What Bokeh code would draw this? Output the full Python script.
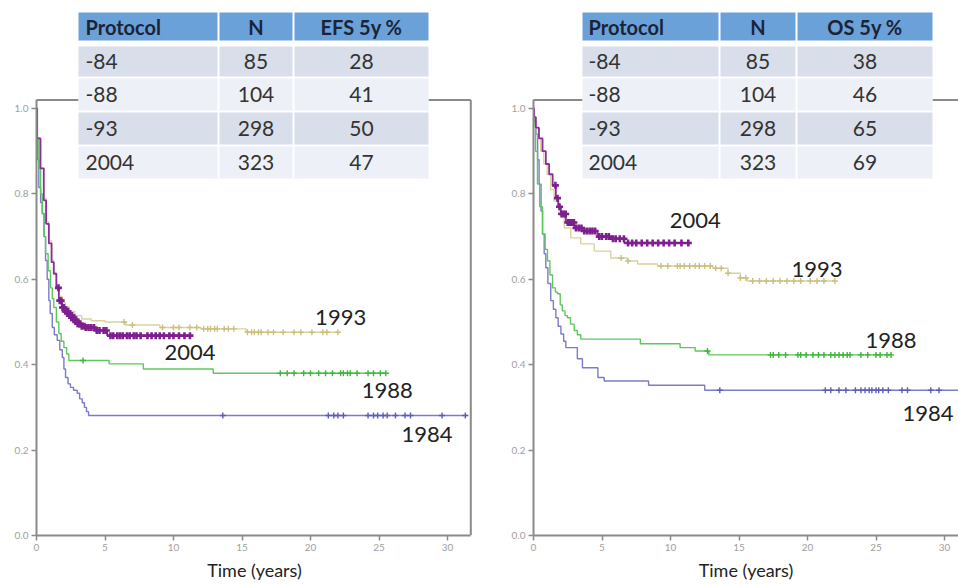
import numpy as np
from bokeh.plotting import figure
from bokeh.layouts import row
from bokeh.models import Range1d, FixedTicker, PrintfTickFormatter
from bokeh.core.properties import value
from bokeh.embed import file_html
from bokeh.resources import INLINE

FONT = "Lato"

# ---------------- table data ----------------
protocols = ["-84", "-88", "-93", "2004"]
patients_n = [85, 104, 298, 323]
efs_5y = [28, 41, 50, 47]
os_5y = [38, 46, 65, 69]
efs_header = ["Protocol", "N", "EFS 5y %"]
os_header = ["Protocol", "N", "OS 5y %"]
x_title = "Time (years)"

series_names = ["1984", "1988", "1993", "2004"]
series_colors = ["#7b7bc9", "#5cc85c", "#d8d2a0", "#8e2c9e"]
censor_colors = ["#5d5db8", "#3fb43f", "#c9c07f", "#7d1f8e"]

x_ticks = [0, 5, 10, 15, 20, 25, 30]
y_ticks = [0.0, 0.2, 0.4, 0.6, 0.8, 1.0]

# ---------------- EFS (left panel) ----------------
efs_1984_t = [0, 0.05, 0.08, 0.17, 0.3, 0.42, 0.55, 0.66, 0.78, 0.9, 1.0, 1.15, 1.3, 1.51, 1.7, 1.88, 2.0, 2.12, 2.3, 2.48, 2.7, 2.97, 3.15, 3.34, 3.5, 3.65, 3.8]
efs_1984_s = [1.0, 0.93, 0.88, 0.815, 0.78, 0.754, 0.70, 0.644, 0.60, 0.55, 0.52, 0.487, 0.47, 0.457, 0.435, 0.417, 0.39, 0.37, 0.355, 0.347, 0.34, 0.333, 0.32, 0.311, 0.30, 0.29, 0.281]
efs_1984_end = 31.5
efs_1984_cens = [13.6, 21.3, 21.7, 22.0, 22.4, 24.2, 24.6, 24.9, 25.3, 25.6, 26.2, 26.9, 27.3, 29.6, 31.3]

efs_1988_t = [0, 0.05, 0.17, 0.3, 0.42, 0.55, 0.66, 0.85, 1.02, 1.15, 1.26, 1.45, 1.63, 1.8, 2.0, 2.2, 2.36, 5.3, 7.8, 12.9]
efs_1988_s = [1.0, 0.93, 0.86, 0.80, 0.754, 0.70, 0.66, 0.62, 0.58, 0.555, 0.534, 0.50, 0.473, 0.455, 0.44, 0.425, 0.41, 0.402, 0.39, 0.38]
efs_1988_end = 25.5
efs_1988_cens = [3.4, 17.8, 18.3, 18.8, 19.5, 20.0, 20.6, 21.1, 21.6, 22.2, 22.4, 22.7, 22.9, 23.4, 24.2, 24.6, 25.1, 25.5]

efs_1993_t = [0, 0.05, 0.29, 0.53, 0.7, 0.9, 1.1, 1.26, 1.45, 1.63, 1.87, 2.1, 2.4, 2.8, 3.3, 4.0, 5.0, 6.5, 9.0, 12.0, 15.3]
efs_1993_s = [1.0, 0.93, 0.86, 0.79, 0.735, 0.69, 0.645, 0.615, 0.585, 0.56, 0.545, 0.535, 0.525, 0.515, 0.507, 0.503, 0.50, 0.493, 0.487, 0.484, 0.476]
efs_1993_end = 22.0
efs_1993_cens = [6.4, 7.0, 9.2, 10.0, 10.4, 11.2, 11.7, 12.2, 12.5, 12.7, 13.0, 13.2, 13.7, 14.0, 14.4, 15.4, 15.7, 15.9, 16.2, 16.4, 16.9, 17.3, 18.0, 18.8, 19.3, 20.1, 20.9, 21.2, 22.0]

efs_2004_t = [0, 0.05, 0.29, 0.53, 0.7, 0.9, 1.1, 1.26, 1.45, 1.63, 1.87, 2.1, 2.36, 2.65, 2.97, 3.3, 3.58, 4.3, 5.16]
efs_2004_s = [1.0, 0.93, 0.86, 0.785, 0.73, 0.684, 0.64, 0.613, 0.58, 0.55, 0.534, 0.525, 0.515, 0.505, 0.496, 0.49, 0.487, 0.48, 0.468]
efs_2004_end = 11.2
efs_2004_cens = [1.6, 1.7, 1.8, 1.9, 2.0, 2.1, 2.2, 2.3, 2.4, 2.5, 2.6, 2.7, 2.8, 2.9, 3.0, 3.1, 3.2, 3.3, 3.5, 3.6, 3.8, 4.0, 4.2, 4.4, 4.6, 4.9, 5.1, 5.4, 5.6, 5.9, 6.1, 6.3, 6.6, 6.8, 7.1, 7.3, 7.6, 8.1, 8.4, 8.7, 9.0, 9.3, 9.7, 10.0, 10.4, 10.8, 11.2]

efs_label_t = [28.5, 25.6, 22.2, 11.2]
efs_label_s = [0.237, 0.34, 0.511, 0.429]

# ---------------- OS (right panel) ----------------
os_1984_t = [0, 0.05, 0.17, 0.3, 0.41, 0.55, 0.66, 0.78, 0.9, 1.05, 1.26, 1.45, 1.63, 1.8, 2.0, 2.2, 2.36, 3.2, 3.57, 4.7, 5.16, 8.4, 12.5]
os_1984_s = [1.0, 0.97, 0.94, 0.88, 0.823, 0.76, 0.706, 0.66, 0.627, 0.59, 0.55, 0.53, 0.51, 0.49, 0.472, 0.455, 0.44, 0.414, 0.393, 0.37, 0.362, 0.352, 0.340]
os_1984_end = 31.5
os_1984_cens = [13.6, 21.3, 21.7, 22.3, 22.8, 23.5, 23.9, 24.2, 24.5, 24.7, 25.0, 25.2, 25.5, 25.9, 26.9, 27.3, 29.0, 29.6]

os_1988_t = [0, 0.03, 0.15, 0.29, 0.45, 0.66, 0.85, 1.02, 1.2, 1.39, 1.6, 1.75, 1.95, 2.1, 2.3, 2.48, 2.7, 2.97, 3.2, 3.45, 7.8, 10.7, 11.8, 12.8]
os_1988_s = [1.0, 0.96, 0.90, 0.823, 0.77, 0.706, 0.67, 0.643, 0.61, 0.58, 0.57, 0.566, 0.54, 0.526, 0.515, 0.51, 0.495, 0.48, 0.47, 0.46, 0.449, 0.44, 0.432, 0.423]
os_1988_end = 26.1
os_1988_cens = [12.7, 17.3, 17.5, 17.9, 18.4, 19.3, 19.5, 19.9, 20.4, 20.8, 21.2, 21.7, 22.0, 22.3, 22.6, 22.9, 23.1, 23.9, 24.4, 25.0, 25.3, 25.8, 26.1]

os_1993_t = [0, 0.05, 0.17, 0.35, 0.53, 0.75, 1.0, 1.25, 1.5, 1.87, 2.24, 2.72, 3.45, 4.43, 5.64, 6.86, 7.6, 9.05, 13.1, 14.2, 15.1, 15.6]
os_1993_s = [1.0, 0.98, 0.955, 0.93, 0.90, 0.87, 0.846, 0.81, 0.783, 0.753, 0.72, 0.697, 0.683, 0.666, 0.65, 0.643, 0.636, 0.631, 0.626, 0.614, 0.603, 0.596]
os_1993_end = 22.0
os_1993_cens = [6.4, 6.9, 9.3, 9.8, 10.5, 10.7, 11.0, 11.4, 11.8, 12.1, 12.5, 12.9, 13.3, 13.7, 14.2, 15.1, 15.5, 16.0, 16.5, 17.0, 17.5, 18.0, 18.5, 19.0, 19.5, 20.2, 20.7, 21.2, 22.0]

os_2004_t = [0, 0.05, 0.17, 0.4, 0.66, 0.9, 1.14, 1.4, 1.63, 1.8, 2.0, 2.36, 2.97, 3.7, 4.67, 5.64, 6.62]
os_2004_s = [1.0, 0.98, 0.955, 0.93, 0.90, 0.87, 0.846, 0.82, 0.79, 0.77, 0.753, 0.733, 0.72, 0.713, 0.70, 0.695, 0.685]
os_2004_end = 11.3
os_2004_cens = [1.6, 1.75, 1.9, 2.05, 2.2, 2.35, 2.5, 2.65, 2.8, 2.95, 3.1, 3.3, 3.5, 3.7, 3.9, 4.1, 4.3, 4.5, 4.8, 5.0, 5.3, 5.5, 5.8, 6.0, 6.3, 6.6, 6.9, 7.2, 7.5, 7.9, 8.3, 8.7, 9.1, 9.5, 9.9, 10.3, 10.8, 11.3]

os_label_t = [28.8, 26.1, 20.7, 11.8]
os_label_s = [0.285, 0.456, 0.624, 0.737]

# ---------------- layout constants (page pixels) ----------------
PX_PER_YEAR = 13.7
FRAME_TOP, FRAME_BOTTOM = 8, 535
ROW_EDGES = [(12, 40), (46, 76), (78, 110), (112, 144), (146, 178)]
ROW_FILLS = ["#6ba1d9", "#d8deea", "#edf0f6", "#d8deea", "#edf0f6"]
AXIS_GRAY = "#8a8a8a"
FRAME_TOP_S = 1.02
FRAME_RIGHT_T = 31.7


def make_panel(fig_left, fig_width, axis_px, frame_right_px, curves, labels_t, labels_s,
               header, col_edges, third_col, text_left_px):
    frame_w = frame_right_px - axis_px
    frame_h = FRAME_BOTTOM - FRAME_TOP
    p = figure(width=fig_width, height=584, output_backend="svg", toolbar_location=None,
               x_range=Range1d(0, frame_w / PX_PER_YEAR),
               y_range=Range1d(0, frame_h / 427.0),
               min_border_left=axis_px - fig_left, min_border_right=fig_left + fig_width - frame_right_px,
               min_border_top=FRAME_TOP, min_border_bottom=584 - FRAME_BOTTOM)
    p.extra_x_ranges = {"px": Range1d(axis_px, frame_right_px)}
    p.extra_y_ranges = {"px": Range1d(FRAME_BOTTOM, FRAME_TOP)}
    p.outline_line_color = None
    p.xgrid.visible = False
    p.ygrid.visible = False
    p.background_fill_color = "white"
    p.border_fill_color = "white"

    for ax in (p.xaxis, p.yaxis):
        ax.axis_line_color = AXIS_GRAY
        ax.axis_line_width = 2
        ax.major_tick_line_color = AXIS_GRAY
        ax.major_tick_line_width = 1.5
        ax.major_tick_out = 5
        ax.major_tick_in = 0
        ax.minor_tick_line_color = None
        ax.major_label_text_font_size = "10px"
        ax.major_label_text_color = "#a0a0a0"
        ax.major_label_text_font = FONT
        ax.major_label_standoff = 3
    p.xaxis.ticker = FixedTicker(ticks=x_ticks)
    p.yaxis.ticker = FixedTicker(ticks=y_ticks)
    p.yaxis.formatter = PrintfTickFormatter(format="%.1f")
    p.xaxis.bounds = (0, FRAME_RIGHT_T)
    p.yaxis.bounds = (0, FRAME_TOP_S)
    p.xaxis.axis_label = x_title
    p.xaxis.axis_label_text_font = FONT
    p.xaxis.axis_label_text_font_size = "18px"
    p.xaxis.axis_label_text_font_style = "normal"
    p.xaxis.axis_label_text_color = "#222222"
    p.xaxis.axis_label_standoff = 5

    # frame top & right
    p.segment(x0=[0, FRAME_RIGHT_T], y0=[FRAME_TOP_S, FRAME_TOP_S],
              x1=[FRAME_RIGHT_T, FRAME_RIGHT_T], y1=[FRAME_TOP_S, 0],
              line_color=AXIS_GRAY, line_width=2)

    for i, (t, s, end, cens) in enumerate(curves):
        xs = list(t) + [end]
        ys = list(s) + [s[-1]]
        big = series_names[i] == "2004"
        p.step(xs, ys, mode="after", line_color=series_colors[i], line_width=1.8 if big else 1.4)
        idx = np.searchsorted(np.array(t), np.array(cens), side="right") - 1
        cy = np.array(s)[idx]
        p.scatter(cens, cy, marker="cross", size=7 if big else 6,
                  line_color=censor_colors[i], line_width=2.6 if big else 1.4)

    p.text(labels_t, labels_s, text=series_names, text_font=value(FONT),
           text_font_size="22px", text_color="#222222", text_align="center",
           text_baseline="middle")

    # table: white backing then cells
    p.quad(left=[col_edges[0][0]], right=[col_edges[-1][1]], top=[ROW_EDGES[0][0]],
           bottom=[ROW_EDGES[-1][1]], fill_color="white", line_color=None,
           x_range_name="px", y_range_name="px")
    lefts, rights, tops, bottoms, fills = [], [], [], [], []
    for r, (y0, y1) in enumerate(ROW_EDGES):
        for (x0, x1) in col_edges:
            lefts.append(x0); rights.append(x1); tops.append(y0); bottoms.append(y1)
            fills.append(ROW_FILLS[r])
    p.quad(left=lefts, right=rights, top=tops, bottom=bottoms, fill_color=fills,
           line_color=None, x_range_name="px", y_range_name="px")

    col_centers = [(a + b) / 2 for a, b in col_edges]
    row_centers = [(a + b) / 2 for a, b in ROW_EDGES]
    p.text([text_left_px, col_centers[1], col_centers[2]], [row_centers[0]] * 3, text=header,
           text_font=value(FONT), text_font_size="20px", text_font_style="bold",
           text_color="#1b2436", text_align=["left", "center", "center"],
           text_baseline="middle", x_range_name="px", y_range_name="px")
    body_x, body_y, body_txt, body_al = [], [], [], []
    for r in range(len(protocols)):
        yc = row_centers[r + 1]
        body_x += [text_left_px, col_centers[1], col_centers[2]]
        body_y += [yc] * 3
        body_txt += [protocols[r], str(patients_n[r]), str(third_col[r])]
        body_al += ["left", "center", "center"]
    p.text(body_x, body_y, text=body_txt, text_font=value(FONT), text_font_size="21px",
           text_color="#333333", text_align=body_al, text_baseline="middle",
           x_range_name="px", y_range_name="px")
    return p


efs_curves = [(efs_1984_t, efs_1984_s, efs_1984_end, efs_1984_cens),
              (efs_1988_t, efs_1988_s, efs_1988_end, efs_1988_cens),
              (efs_1993_t, efs_1993_s, efs_1993_end, efs_1993_cens),
              (efs_2004_t, efs_2004_s, efs_2004_end, efs_2004_cens)]
os_curves = [(os_1984_t, os_1984_s, os_1984_end, os_1984_cens),
             (os_1988_t, os_1988_s, os_1988_end, os_1988_cens),
             (os_1993_t, os_1993_s, os_1993_end, os_1993_cens),
             (os_2004_t, os_2004_s, os_2004_end, os_2004_cens)]

p1 = make_panel(0, 479, 36, 472, efs_curves, efs_label_t, efs_label_s, efs_header,
                [(78, 217), (219, 292), (294, 428)], efs_5y, 85)
p2 = make_panel(479, 479, 533, 958, os_curves, os_label_t, os_label_s, os_header,
                [(582, 718), (720, 795), (797, 932)], os_5y, 588)

layout = row(p1, p2)
open("out.html", "w").write(file_html(layout, INLINE))
